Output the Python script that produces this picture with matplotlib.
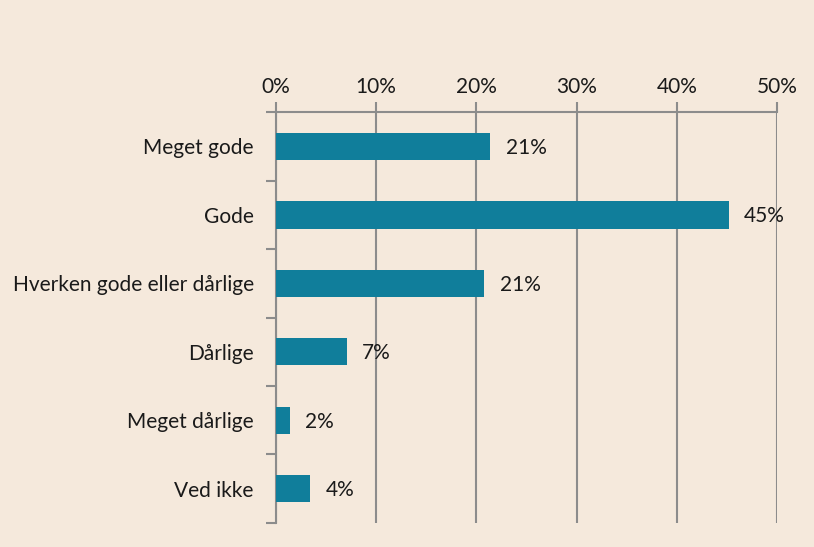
import matplotlib.pyplot as plt
import numpy as np
from matplotlib.ticker import FixedLocator, FuncFormatter

categories = ["Meget gode", "Gode", "Hverken gode eller dårlige", "Dårlige", "Meget dårlige", "Ved ikke"]
values = [21.4, 45.2, 20.8, 7.1, 1.4, 3.4]
labels = ["21%", "45%", "21%", "7%", "2%", "4%"]

bg = "#f5e9dc"
bar_col = "#107e9b"
grid_col = "#8c8c8c"

plt.rcParams['font.family'] = ['Lato', 'DejaVu Sans']
fs = 15

fig = plt.figure(figsize=(8.14, 5.47), dpi=100, facecolor=bg)
ax = fig.add_axes([0.339, 0.044, 0.6155, 0.751], facecolor=bg)

y = np.arange(len(categories))
ax.barh(y, values, height=0.4, color=bar_col, zorder=3)
for yi, v, t in zip(y, values, labels):
	ax.annotate(t, (v, yi), xytext=(11, -1), textcoords="offset points", va="center", ha="left",
		fontsize=fs, color="#1a1a1a", zorder=4)

ax.set_xlim(0, 50)
ax.set_ylim(len(categories) - 0.5, -0.5)
ax.xaxis.tick_top()
ax.set_xticks(range(0, 51, 10))
ax.xaxis.set_major_formatter(FuncFormatter(lambda v, p: f"{int(v)}%"))
ax.tick_params(axis="x", length=7, width=1.5, color=grid_col, labelsize=fs, labelcolor="#1a1a1a", pad=4)
ax.grid(axis="x", color=grid_col, linewidth=1.5, zorder=1)

ax.set_yticks(y)
ax.set_yticklabels(categories)
ax.yaxis.set_minor_locator(FixedLocator(np.arange(-0.5, len(categories), 1)))
ax.tick_params(axis="y", which="major", length=0, labelsize=fs, labelcolor="#1a1a1a", pad=16)
ax.tick_params(axis="y", which="minor", length=7, width=1.5, color=grid_col)

for s in ["right", "bottom"]:
	ax.spines[s].set_visible(False)
for s in ["top", "left"]:
	ax.spines[s].set_color(grid_col)
	ax.spines[s].set_linewidth(1.5)

fig.savefig("out.png", dpi=100, facecolor=bg)
